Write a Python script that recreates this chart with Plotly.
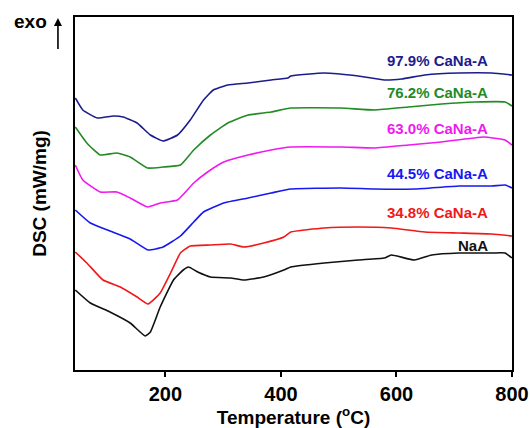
import plotly.graph_objects as go

# Temperature (°C) and DSC signal (arbitrary offset, mW/mg)
T_979 = [44, 57, 82, 110, 127, 151, 174, 196, 221, 243, 266, 283, 308, 343, 383, 412, 417, 475, 534, 579, 609, 649, 708, 765, 800]
D_979 = [2.72, 2.60, 2.52, 2.54, 2.53, 2.47, 2.35, 2.29, 2.35, 2.50, 2.70, 2.80, 2.85, 2.87, 2.90, 2.92, 2.94, 2.97, 2.94, 2.90, 2.91, 2.95, 2.97, 2.97, 2.95]

T_762 = [44, 64, 87, 116, 139, 169, 196, 226, 249, 278, 308, 343, 383, 417, 504, 562, 621, 678, 736, 788, 800]
D_762 = [2.43, 2.27, 2.15, 2.17, 2.13, 2.02, 2.03, 2.05, 2.20, 2.35, 2.47, 2.55, 2.58, 2.62, 2.62, 2.60, 2.63, 2.66, 2.68, 2.68, 2.64]

T_630 = [44, 57, 87, 116, 139, 169, 191, 221, 249, 273, 301, 343, 383, 417, 504, 562, 621, 678, 751, 788, 800]
D_630 = [2.05, 1.90, 1.78, 1.78, 1.72, 1.63, 1.67, 1.70, 1.87, 1.98, 2.08, 2.15, 2.20, 2.23, 2.23, 2.22, 2.25, 2.28, 2.33, 2.30, 2.25]

T_445 = [44, 70, 104, 139, 170, 196, 226, 249, 266, 301, 343, 383, 417, 504, 562, 631, 708, 765, 788, 800]
D_445 = [1.60, 1.47, 1.39, 1.31, 1.20, 1.23, 1.34, 1.48, 1.58, 1.67, 1.72, 1.77, 1.81, 1.82, 1.81, 1.81, 1.84, 1.84, 1.85, 1.82]

T_348 = [44, 64, 92, 122, 151, 170, 191, 209, 226, 243, 278, 313, 336, 370, 405, 417, 475, 534, 591, 649, 708, 765, 800]
D_348 = [1.18, 1.07, 0.90, 0.83, 0.73, 0.66, 0.77, 0.97, 1.17, 1.24, 1.25, 1.26, 1.23, 1.27, 1.33, 1.38, 1.42, 1.43, 1.42, 1.38, 1.37, 1.36, 1.34]

T_NaA = [44, 70, 104, 139, 165, 174, 191, 214, 231, 240, 256, 278, 313, 336, 370, 405, 417, 475, 534, 579, 591, 631, 661, 708, 765, 788, 800]
D_NaA = [0.80, 0.67, 0.58, 0.47, 0.34, 0.38, 0.63, 0.90, 1.00, 1.03, 0.98, 0.93, 0.92, 0.90, 0.93, 1.00, 1.03, 1.07, 1.10, 1.12, 1.15, 1.10, 1.15, 1.17, 1.17, 1.17, 1.12]

labels = ["97.9% CaNa-A", "76.2% CaNa-A", "63.0% CaNa-A", "44.5% CaNa-A", "34.8% CaNa-A", "NaA"]
label_y = [3.10, 2.78, 2.42, 1.97, 1.58, 1.25]
colors = ["#1c1c8e", "#238b23", "#f019f0", "#1818f0", "#f01818", "#111111"]
series = [(T_979, D_979), (T_762, D_762), (T_630, D_630), (T_445, D_445), (T_348, D_348), (T_NaA, D_NaA)]

xticks = [200, 400, 600, 800]

fig = go.Figure()
for (t, d), c, name in zip(series, colors, labels):
    fig.add_trace(go.Scatter(x=t, y=d, mode="lines", name=name,
                             line=dict(color=c, width=1.6, shape="spline", smoothing=0.4),
                             showlegend=False))

annotations = []
for name, y, c in zip(labels, label_y, colors):
    annotations.append(dict(x=762, y=y, xref="x", yref="y", text="<b>%s</b>" % name,
                            showarrow=False, xanchor="right", yanchor="middle",
                            font=dict(size=15, color=c, family="Liberation Sans, Arial")))

# exo arrow and label
annotations.append(dict(x=-0.039, y=0.997, xref="paper", yref="paper", text=" ",
                        showarrow=True, ax=0, ay=38, axref="pixel", ayref="pixel",
                        arrowhead=2, arrowsize=1.0, arrowwidth=1.6, arrowcolor="black",
                        font=dict(size=10)))
annotations.append(dict(x=-0.101, y=0.986, xref="paper", yref="paper", text="<b>exo</b>",
                        showarrow=False, xanchor="center", yanchor="middle",
                        font=dict(size=19, color="black", family="Liberation Sans, Arial")))

fig.update_layout(
    width=530, height=428,
    margin=dict(l=75, r=18, t=17, b=58, autoexpand=False),
    paper_bgcolor="white", plot_bgcolor="white",
    annotations=annotations,
    font=dict(family="Liberation Sans, Arial", color="black"),
)
fig.update_xaxes(range=[43.5, 800], tickvals=xticks, ticktext=["<b>%d</b>" % v for v in xticks],
                 ticks="outside", ticklen=5, tickwidth=1.5, tickcolor="black",
                 tickfont=dict(size=20, color="black"), automargin=False,
                 showline=True, linecolor="black", linewidth=1.5, mirror=True,
                 showgrid=False, zeroline=False,
                 title=dict(text="<b>Temperature (<sup>o</sup>C)</b>", font=dict(size=19), standoff=0))
fig.update_yaxes(range=[0, 3.53], showticklabels=False, ticks="", automargin=False,
                 showline=True, linecolor="black", linewidth=1.5, mirror=True,
                 showgrid=False, zeroline=False,
                 title=dict(text="<b>DSC (mW/mg)</b>", font=dict(size=19), standoff=22))

fig.write_html("out.html")
